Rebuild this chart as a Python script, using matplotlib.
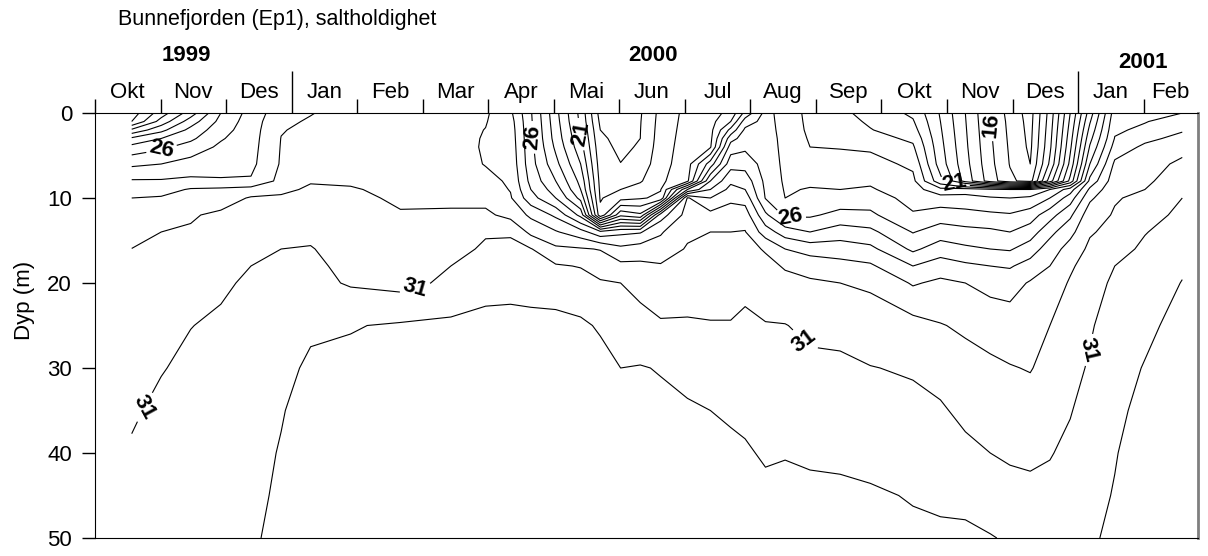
import numpy as np
import matplotlib
matplotlib.use("Agg")
import matplotlib.pyplot as plt

plt.rcParams["font.family"] = ["Liberation Sans", "DejaVu Sans"]

# station times: months after 1 Oct 1999
months = [0.56, 1.01, 1.46, 1.92, 2.38, 2.84, 3.29, 3.90, 4.66, 5.43,
          5.96, 6.34, 6.65, 7.03, 7.41, 7.71, 8.02, 8.32, 8.63, 9.04,
          9.39, 9.70, 9.92, 10.23, 10.53, 10.91, 11.37, 11.83, 12.48, 12.90,
          13.28, 13.66, 13.96, 14.27, 14.57, 14.88, 15.18, 15.56, 16.02, 16.59]

depths = [0, 1, 2, 3, 4, 6, 8, 9, 10, 12, 14, 16, 18, 20, 25, 30, 35, 40, 45, 50]

# salinity profile per station (same order as depths)
salinity = [
    [19.5, 20.0, 22.2, 24.2, 25.3, 26.8, 28.1, 28.6, 29.0, 29.35, 29.7, 30.01, 30.1, 30.2, 30.4, 30.65, 30.88, 31.1, 31.3, 31.5],
    [21.5, 22.4, 23.7, 25.0, 25.8, 27.0, 28.1, 28.6, 29.1, 29.5, 30.0, 30.15, 30.25, 30.35, 30.6, 30.95, 31.2, 31.35, 31.5, 31.6],
    [23.5, 24.5, 25.3, 25.8, 26.4, 27.4, 28.2, 29.1, 29.4, 29.9, 30.1, 30.3, 30.45, 30.6, 30.98, 31.2, 31.35, 31.5, 31.6, 31.7],
    [26.0, 26.3, 26.6, 26.9, 27.2, 27.6, 28.1, 29.2, 29.5, 30.2, 30.4, 30.55, 30.7, 30.85, 31.15, 31.4, 31.55, 31.7, 31.8, 31.9],
    [27.4, 27.5, 27.55, 27.6, 27.65, 27.75, 28.1, 29.4, 30.1, 30.35, 30.55, 30.75, 31.0, 31.15, 31.4, 31.55, 31.65, 31.75, 31.85, 31.9],
    [28.6, 28.8, 28.95, 29.02, 29.05, 29.1, 29.3, 29.85, 30.1, 30.4, 30.7, 31.0, 31.1, 31.2, 31.4, 31.75, 31.95, 32.05, 32.1, 32.2],
    [28.95, 29.1, 29.2, 29.3, 29.4, 29.6, 29.95, 30.1, 30.2, 30.45, 30.8, 31.05, 31.2, 31.3, 31.85, 32.15, 32.3, 32.4, 32.45, 32.5],
    [29.4, 29.45, 29.5, 29.55, 29.6, 29.75, 29.92, 30.05, 30.15, 30.3, 30.45, 30.6, 30.75, 30.9, 31.95, 32.2, 32.35, 32.45, 32.5, 32.55],
    [29.5, 29.5, 29.55, 29.6, 29.6, 29.7, 29.8, 29.85, 29.9, 30.05, 30.2, 30.35, 30.5, 30.7, 32.1, 32.3, 32.4, 32.45, 32.5, 32.55],
    [29.2, 29.25, 29.3, 29.35, 29.4, 29.5, 29.65, 29.75, 29.85, 30.1, 30.4, 30.65, 31.0, 31.2, 32.2, 32.35, 32.45, 32.5, 32.55, 32.6],
    [29.15, 29.05, 28.98, 28.93, 28.9, 28.95, 29.3, 29.5, 29.7, 30.2, 30.9, 31.15, 31.4, 31.7, 32.25, 32.4, 32.5, 32.55, 32.6, 32.65],
    [28.2, 28.4, 28.5, 28.55, 28.6, 28.7, 28.85, 28.95, 29.1, 29.7, 30.9, 31.2, 31.45, 31.7, 32.3, 32.45, 32.55, 32.6, 32.65, 32.7],
    [26.1, 26.15, 26.2, 26.25, 26.3, 26.4, 26.7, 27.0, 27.4, 28.8, 29.75, 31.05, 31.3, 31.6, 32.3, 32.45, 32.55, 32.6, 32.65, 32.7],
    [23.3, 23.4, 23.5, 23.6, 23.8, 24.3, 25.0, 25.5, 26.0, 27.8, 29.1, 30.2, 31.1, 31.5, 32.3, 32.45, 32.55, 32.6, 32.65, 32.7],
    [20.7, 20.8, 21.0, 21.2, 21.4, 22.0, 22.7, 23.0, 23.7, 25.7, 28.4, 30.1, 30.95, 31.4, 32.15, 32.4, 32.55, 32.6, 32.65, 32.7],
    [17.6, 17.8, 18.0, 18.15, 18.3, 18.5, 18.7, 18.8, 18.9, 19.3, 27.3, 29.95, 30.6, 31.1, 31.9, 32.3, 32.5, 32.6, 32.65, 32.7],
    [17.6, 17.65, 17.7, 17.75, 17.8, 18.02, 18.65, 19.0, 19.65, 22.75, 27.75, 29.25, 30.25, 31.0, 31.5, 32.0, 32.3, 32.45, 32.55, 32.6],
    [17.9, 17.95, 17.98, 18.0, 18.1, 18.4, 18.9, 19.4, 19.9, 22.2, 27.9, 29.5, 30.2, 30.7, 31.35, 32.05, 32.3, 32.45, 32.55, 32.6],
    [19.3, 19.35, 19.4, 19.45, 19.5, 19.6, 19.8, 19.95, 20.2, 27.5, 28.9, 29.4, 30.1, 30.5, 31.1, 31.95, 32.2, 32.4, 32.5, 32.55],
    [20.3, 20.35, 20.4, 20.45, 20.5, 20.6, 20.8, 25.0, 29.1, 29.4, 29.8, 30.1, 30.3, 30.6, 31.1, 31.75, 32.1, 32.35, 32.45, 32.5],
    [20.6, 20.65, 20.7, 20.75, 20.9, 23.5, 26.0, 27.0, 28.0, 29.3, 30.0, 30.25, 30.45, 30.65, 31.05, 31.6, 32.0, 32.3, 32.4, 32.5],
    [21.3, 22.0, 23.3, 24.6, 25.5, 26.6, 27.8, 28.3, 28.8, 29.45, 30.0, 30.3, 30.5, 30.65, 31.05, 31.5, 31.9, 32.15, 32.35, 32.45],
    [23.3, 24.5, 25.2, 25.5, 25.8, 26.6, 27.6, 28.0, 28.6, 29.5, 30.05, 30.35, 30.55, 30.75, 31.2, 31.5, 31.8, 32.1, 32.35, 32.45],
    [25.3, 25.35, 25.4, 25.45, 25.5, 25.6, 25.75, 25.85, 25.95, 27.2, 28.5, 29.9, 30.3, 30.5, 31.05, 31.4, 31.75, 31.9, 32.2, 32.45],
    [24.6, 24.62, 24.65, 24.7, 24.72, 24.78, 24.85, 24.92, 25.0, 25.8, 27.5, 29.0, 29.9, 30.3, 31.03, 31.35, 31.6, 31.95, 32.25, 32.4],
    [23.7, 23.75, 23.8, 23.9, 24.0, 24.45, 24.85, 25.05, 25.3, 25.85, 27.0, 28.6, 29.6, 30.15, 30.8, 31.2, 31.55, 31.9, 32.15, 32.35],
    [23.2, 23.4, 23.6, 23.8, 23.95, 24.35, 24.8, 25.0, 25.4, 26.3, 27.5, 28.5, 29.35, 30.0, 30.7, 31.2, 31.5, 31.85, 32.15, 32.3],
    [22.7, 22.85, 23.05, 23.4, 23.85, 24.35, 24.85, 25.1, 25.5, 26.2, 27.25, 28.25, 29.15, 29.85, 30.5, 31.03, 31.4, 31.75, 32.1, 32.3],
    [21.8, 22.1, 22.4, 22.8, 23.15, 23.8, 24.25, 24.45, 24.65, 25.1, 25.95, 26.8, 28.0, 28.9, 30.35, 30.9, 31.25, 31.6, 31.95, 32.15],
    [19.9, 20.0, 20.1, 20.2, 20.3, 20.5, 21.3, 23.3, 24.4, 25.5, 26.5, 27.5, 28.5, 29.2, 30.05, 30.7, 31.1, 31.5, 31.9, 32.1],
    [18.0, 18.05, 18.1, 18.15, 18.2, 18.35, 18.6, 23.5, 24.35, 25.35, 26.3, 27.2, 28.2, 29.0, 29.85, 30.35, 30.8, 31.2, 31.8, 32.15],
    [16.0, 16.05, 16.1, 16.15, 16.2, 16.3, 16.5, 23.2, 24.1, 25.2, 26.2, 27.0, 28.0, 28.7, 29.6, 30.2, 30.6, 31.0, 31.55, 32.05],
    [14.6, 14.7, 14.75, 14.8, 14.85, 14.95, 15.2, 23.0, 24.0, 25.1, 26.0, 26.9, 27.9, 28.6, 29.5, 30.05, 30.5, 30.9, 31.25, 31.9],
    [13.6, 13.65, 13.7, 13.75, 13.8, 14.0, 14.6, 23.0, 24.2, 25.5, 26.5, 27.5, 28.4, 29.1, 29.6, 29.95, 30.4, 30.85, 31.2, 31.4],
    [16.4, 16.5, 16.6, 16.7, 16.8, 17.2, 18.5, 24.0, 25.0, 26.6, 27.7, 28.5, 29.0, 29.45, 30.0, 30.3, 30.6, 30.95, 31.25, 31.5],
    [20.0, 20.2, 20.4, 20.6, 20.8, 21.3, 22.3, 25.5, 26.5, 27.8, 28.7, 29.4, 29.85, 30.1, 30.4, 30.7, 30.95, 31.2, 31.55, 31.85],
    [23.5, 23.9, 24.3, 24.7, 25.1, 26.0, 27.3, 28.2, 28.8, 29.6, 29.9, 30.2, 30.45, 30.65, 30.9, 31.1, 31.35, 31.55, 31.75, 31.9],
    [27.5, 27.7, 27.85, 28.05, 28.4, 29.2, 29.6, 29.8, 29.93, 30.08, 30.3, 30.6, 31.0, 31.15, 31.45, 31.65, 31.8, 31.95, 32.05, 32.15],
    [27.85, 27.95, 28.2, 28.75, 29.2, 29.5, 29.8, 30.0, 30.2, 30.5, 30.95, 31.2, 31.35, 31.5, 31.8, 32.05, 32.25, 32.4, 32.5, 32.55],
    [28.0, 28.45, 28.9, 29.3, 29.6, 30.25, 30.6, 30.8, 31.0, 31.3, 31.5, 31.7, 31.88, 32.03, 32.3, 32.45, 32.55, 32.6, 32.65, 32.7],
]

levels = list(range(10, 34))
label_levels = [16, 21, 26, 31]
# (month, depth) where the labelled isohalines get their numbers
label_spots = [(1.01, 4.1), (6.62, 2.9), (7.33, 2.6), (10.61, 12.6), (13.12, 7.9),
               (13.66, 1.4), (0.78, 34.7), (4.89, 20.8), (10.91, 26.1), (15.18, 27.9)]

month_names = ["Okt", "Nov", "Des", "Jan", "Feb", "Mar", "Apr", "Mai", "Jun",
               "Jul", "Aug", "Sep", "Okt", "Nov", "Des", "Jan", "Feb"]
month_edges = list(range(17))
year_names = ["1999", "2000", "2001"]
year_x = [1.39, 8.52, 15.99]
year_y = [1.136, 1.136, 1.118]
x_end = 16.83

fig = plt.figure(figsize=(12.08, 5.56), dpi=100)
ax = fig.add_axes([95 / 1208, 18 / 556, 1103 / 1208, 425 / 556])

T, Z = np.meshgrid(months, depths)
S = np.array(salinity).T
plain_levels = [lv for lv in levels if lv not in label_levels]
ax.contour(T, Z, S, levels=plain_levels, colors="k", linewidths=0.8)
cs_lab = ax.contour(T, Z, S, levels=label_levels, colors="k", linewidths=0.8)
texts = ax.clabel(cs_lab, manual=label_spots, fmt="%d",
                  fontsize=16, inline=True, inline_spacing=4)
for t in texts:
    t.set_fontweight("bold")

ax.set_xlim(0, x_end)
ax.set_ylim(50, 0)

ax.xaxis.set_ticks_position("top")
ax.set_xticks(month_edges)
ax.set_xticklabels([])
centers = [m + 0.5 for m in month_edges[:-1]] + [(16 + x_end) / 2]
ax.set_xticks(centers, minor=True)
ax.set_xticklabels(month_names, minor=True)
ax.tick_params(axis="x", which="major", direction="out", length=10, width=1,
               top=True, bottom=False)
ax.tick_params(axis="x", which="minor", length=0, pad=7, labelsize=16,
               top=True, bottom=False, labeltop=True, labelbottom=False)
for tick, loc in zip(ax.xaxis.get_major_ticks(), month_edges):
    if loc in (3, 15):
        tick.tick2line.set_markersize(30)

ax.set_yticks([0, 10, 20, 30, 40, 50])
ax.tick_params(axis="y", direction="out", length=9.5, width=1, pad=7, labelsize=16)
ax.set_ylabel("Dyp (m)", fontsize=16)
ax.yaxis.set_label_coords(-0.054, 0.56)

ax.spines["right"].set_color("#7f7f7f")
ax.spines["right"].set_linewidth(2)

for name, x, y in zip(year_names, year_x, year_y):
    ax.text(x, y, name, transform=ax.get_xaxis_transform(), ha="center", va="center",
            fontsize=16, fontweight="bold")

fig.text(118 / 1208, 1 - 20 / 556, "Bunnefjorden (Ep1), saltholdighet",
         ha="left", va="center", fontsize=15.5)

fig.savefig("out.png", dpi=100)
